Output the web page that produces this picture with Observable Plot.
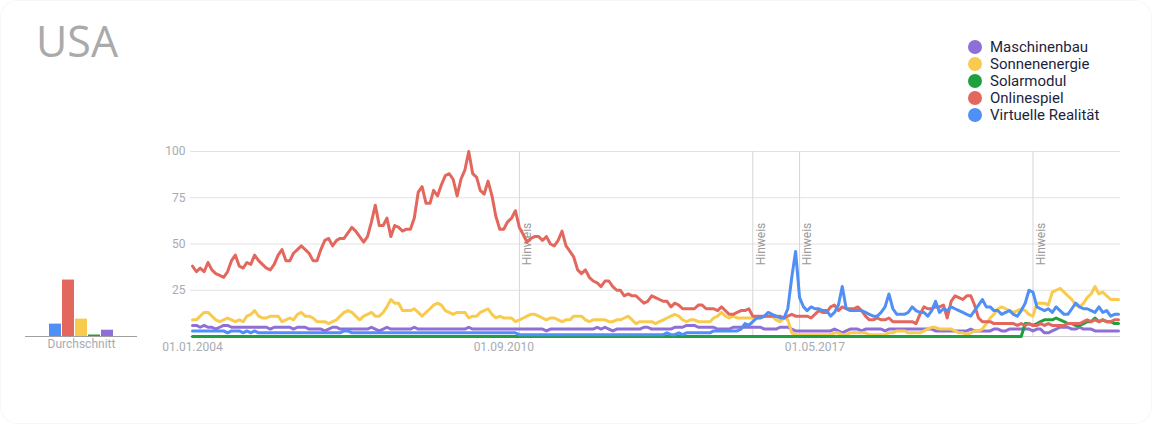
<!DOCTYPE html>
<html>
<head>
<meta charset="utf-8">
<script src="https://cdn.jsdelivr.net/npm/d3@7"></script>
<script src="https://cdn.jsdelivr.net/npm/@observablehq/plot@0.6"></script>
<style>
  html, body { margin: 0; padding: 0; background: #fff; }
  #card { position: relative; width: 1150px; height: 422px; border: 1px solid #f7f7f7; border-radius: 18px; overflow: hidden; background: #fff; }
  #title { position: absolute; left: 35px; top: 18px; font-family: "Open Sans", sans-serif; font-size: 43px; line-height: 1; color: #aaaaaa; }
  #legend { position: absolute; left: 967px; top: 37px; font-family: Roboto, sans-serif; font-size: 15px; color: #1d1f40; }
  #legend .row { display: flex; align-items: center; height: 17px; }
  #legend .dot { width: 14px; height: 14px; border-radius: 50%; margin-right: 8px; }
  .abs { position: absolute; left: 0; top: 0; }
</style>
</head>
<body>
<div id="card">
  <div id="title">USA</div>
  <div id="legend"></div>
  <div id="bars" class="abs"></div>
  <div id="main" class="abs"></div>
</div>
<script>
// ---- data ----
const seriesNames = ["Maschinenbau", "Sonnenenergie", "Solarmodul", "Onlinespiel", "Virtuelle Realität"];
const seriesColors = ["#8e6fd8", "#f8cb4e", "#1fa03f", "#e4675d", "#4f8ff6"];

const startMonth = "2004-01-01"; // monthly values from here

const maschinenbau = [
6,6,5,6,5,5,4,5,6,6, 5,5,5,5,5,5,5,5,5,5, 4,5,5,5,5,5,4,5,5,5, 4,4,4,4,3,4,5,5,4,4,
4,4,4,4,4,4,5,4,3,4, 5,4,4,4,4,
4,4,5,4,4,4,4,4,4,4, 4,4,4,4,4,4,5,4,4,4, 4,4,4,4,4,4,4,4,4,4, 4,4,4,4,4,4,3,4,4,4,
4,4,4,4,4,4,4,4,4,5, 4,5,4,3,4,4,
4,4,4,4,4,5,5,4,4,4, 4,4,4,5,5,5,6,6,6,5, 5,5,5,5,4,4,4,4,5,5, 5,5,5,5,5,5,4,4,4,4,
5,5,5,
4,3,3,3,3,3,3,3,3,3, 3,4,3,2,3,4,4,4,3,4, 4,4,4,4,3,4,4,4,4,4, 4,4,4,4,4,4,4,3,3,3,
3,3,3,3,3,3,4,3,3,3, 3,3,4,4,3,3,4,4,4,4, 4,4,3,4,4,2,2,3,4,5, 5,5,4,4,5,4,4,4,3,3,
3,3,3,3,3
];

const sonnenenergie = [
9,9,11,13,13,11,9,8,9,10, 9,8,9,8,11,12,14,11,10,10, 11,11,11,8,9,10,9,12,13,11, 11,10,8,8,8,7,8,9,11,13,
14,13,11,9,11,12,13,11,11,13, 16,20,18,18,14,
14,14,15,13,11,13,15,17,18,17, 14,13,12,13,13,13,10,11,11,13, 14,15,12,10,11,10,10,10,8,9, 10,11,12,12,11,10,9,10,10,9,
8,9,9,11,11,11,9,8,9,9, 9,9,8,8,9,9,
10,11,9,7,8,8,8,8,7,8, 9,10,11,12,11,9,8,9,9,8, 8,8,8,10,11,13,11,10,11,10, 10,10,10,10,10,10,11,11,11,9,
8,10,9,
2,1,1,1,1,1,1,1,1,1, 1,2,2,1,1,2,2,2,2,2, 1,1,1,1,1,2,2,3,3,3, 2,2,2,2,3,4,5,5,4,4,
4,4,3,2,2,1,2,3,3,4, 7,10,12,15,16,15,14,13,14,15, 14,12,11,18,18,18,17,24,25,26, 24,22,20,17,16,18,21,23,27,23,
24,22,20,20,20
];

const solarmodul = [
0,0,0,0,0,0,0,0,0,0, 0,0,0,0,0,0,0,0,0,0, 0,0,0,0,0,0,0,0,0,0, 0,0,0,0,0,0,0,0,0,0,
0,0,0,0,0,0,0,0,0,0, 0,0,0,0,0,0,0,0,0,0, 0,0,0,0,0,0,0,0,0,0, 0,0,0,0,0,0,0,0,0,0,
0,0,0,0,0,0,0,0,0,0, 0,0,0,0,0,0,0,0,0,0, 0,0,0,0,0,0,0,0,0,0, 0,0,0,0,0,0,0,0,0,0,
0,0,0,0,0,0,0,0,0,0, 0,0,0,0,0,0,0,0,0,0, 0,0,0,0,0,0,0,0,0,0, 0,0,0,0,0,0,0,0,0,0,
0,0,0,0,0,0,0,0,0,0, 0,0,0,0,0,0,0,0,0,0, 0,0,0,0,0,0,0,0,0,0, 0,0,0,0,0,0,0,0,0,0,
0,0,0,0,0,0,0,0,0,0, 0,0,0,0,
7,7,6,7,8,9,9,9,10,9, 8,7,7,6,6,7,8,8,10,8, 9,8,8,7,7
];

const onlinespiel = [
38,35,37,35,40,36,34,33,32,35, 41,44,38,37,40,39,44,41,39,37, 36,39,44,47,41,41,45,47,49,47, 45,41,41,47,52,53,49,52,53,53,
56,59,57,54,51,54,62,71,60,60, 64,54,60,59,57,
58,58,64,78,81,72,72,79,76,82, 87,88,85,76,85,90,100,88,86,79, 77,84,76,65,58,58,62,64,68,59, 55,51,53,54,54,52,54,50,49,52,
57,49,46,43,36,34,36,32,30,29, 27,30,30,27,25,25,
22,23,22,22,20,18,19,22,21,20, 19,19,16,18,17,15,15,15,15,17, 17,15,15,15,14,16,14,12,12,13, 14,14,15,11,11,11,11,11,11,11,
11,10,11,
12,11,11,11,11,10,12,14,13,13, 16,17,14,16,15,15,15,16,14,11, 9,9,10,9,9,10,8,8,8,8, 8,8,7,12,16,15,15,16,16,17,
10,19,22,21,20,22,22,17,10,8, 8,8,7,7,7,7,7,7,6,7, 6,7,6,6,7,6,7,6,6,6, 6,7,7,7,7,8,9,8,9,8,
9,8,8,9,9
];

const virtuelleRealitaet = [
3,3,3,3,3,3,3,3,3,2, 3,3,3,2,3,2,3,2,2,2, 2,2,2,2,2,2,2,2,2,2, 2,2,2,2,2,2,2,2,2,3,
3,2,2,2,2,2,2,2,2,2, 2,2,2,2,2,
2,2,2,2,2,2,2,2,2,2, 2,2,2,2,2,2,2,2,2,2, 2,2,2,2,2,2,2,2,2,1, 1,1,1,1,1,1,1,1,1,1,
1,1,1,1,1,1,1,1,1,1, 1,1,1,1,1,1,
1,1,1,1,1,1,1,1,1,1, 1,2,1,1,2,1,2,2,2,2, 2,2,2,3,3,3,3,3,3,3,
4,7,6,8,10,10,11,13,12,11, 10,10,15,
32,46,21,16,14,16,15,15,14,14, 11,13,17,27,15,14,14,14,14,13, 12,11,11,13,16,23,15,12,12,12, 13,16,14,13,13,11,14,19,13,15,
14,16,15,14,13,12,11,14,17,20, 16,16,14,14,12,13,14,12,11,14, 18,25,24,16,15,14,15,13,16,14, 12,12,15,18,16,15,15,14,13,16,
13,14,11,12,12
];

// averages ("Durchschnitt") as shown by the small bar chart, in its own order
const avgNames = ["Virtuelle Realität", "Onlinespiel", "Sonnenenergie", "Solarmodul", "Maschinenbau"];
const avgValues = [6.7, 30.5, 9.4, 0.8, 3.4];

const yTicks = [25, 50, 75, 100];
const tickDates = ["2004-01-01", "2010-09-01", "2017-05-01"];
const tickLabels = ["01.01.2004", "01.09.2010", "01.05.2017"];
const noteDates = ["2011-01-01", "2016-01-01", "2017-01-01", "2022-01-01"];
const noteLabel = "Hinweis";
const avgLabel = "Durchschnitt";
const endMonth = "2023-11-01";

// ---- build table ----
const seriesValues = [maschinenbau, sonnenenergie, solarmodul, onlinespiel, virtuelleRealitaet];
const start = new Date(startMonth);
const table = [];
seriesNames.forEach((name, s) => {
  seriesValues[s].forEach((v, i) => {
    table.push({series: name, date: d3.utcMonth.offset(start, i), value: v});
  });
});

const colorScale = {domain: seriesNames, range: seriesColors};
const tDates = tickDates.map(d => new Date(d));
const nDates = noteDates.map(d => new Date(d));

// ---- legend ----
const legend = document.getElementById("legend");
seriesNames.forEach((n, i) => {
  const row = document.createElement("div");
  row.className = "row";
  row.innerHTML = `<span class="dot" style="background:${seriesColors[i]}"></span><span>${n}</span>`;
  legend.appendChild(row);
});

// ---- main chart ----
const main = Plot.plot({
  width: 1150, height: 424,
  marginLeft: 191, marginRight: 33, marginTop: 150, marginBottom: 89,
  style: {fontFamily: "Roboto, sans-serif", fontSize: "12px", color: "#a7abb1", background: "transparent", overflow: "visible"},
  x: {type: "utc", domain: [start, new Date(endMonth)]},
  y: {domain: [0, 100]},
  color: colorScale,
  marks: [
    Plot.gridY(yTicks, {stroke: "#e2e2e2", strokeOpacity: 1, insetLeft: -2, insetRight: -2}),
    Plot.ruleY([0], {stroke: "#d0d0d0", insetLeft: -2, insetRight: -2}),
    Plot.ruleX(nDates, {y1: 0, y2: 100, stroke: "#d6d6d6"}),
    Plot.text(nDates, {x: d => d, y: 50, text: () => noteLabel, rotate: -90, dx: 8, fill: "#9a9a9a", fontSize: 12}),
    Plot.axisY({ticks: yTicks, tickSize: 0, tickPadding: 7, label: null, fontSize: 12}),
    Plot.axisX({ticks: tDates, tickSize: 0, tickPadding: 6, label: null, fontSize: 12,
      tickFormat: d => tickLabels[tDates.findIndex(t => +t === +d)]}),
    Plot.line(table, {x: "date", y: "value", z: "series", stroke: "series", strokeWidth: 3, strokeLinejoin: "round", curve: "linear"})
  ]
});
document.getElementById("main").appendChild(main);

// ---- average bars ----
const bars = Plot.plot({
  width: 150, height: 424,
  marginLeft: 46, marginRight: 36, marginTop: 150, marginBottom: 89,
  style: {fontFamily: "Roboto, sans-serif", fontSize: "12px", color: "#a7abb1", background: "transparent", overflow: "visible"},
  x: {type: "band", domain: avgNames, paddingInner: 0.1, paddingOuter: 0, axis: null},
  y: {domain: [0, 100], axis: null},
  color: colorScale,
  marks: [
    Plot.barY(avgNames.map((n, i) => ({name: n, value: avgValues[i]})), {x: "name", y: "value", fill: "name"}),
    Plot.ruleY([0], {stroke: "#a0a0a0", insetLeft: -22, insetRight: -22}),
    Plot.text([avgLabel], {frameAnchor: "bottom", dy: 11, fill: "#a7abb1", fontSize: 12})
  ]
});
document.getElementById("bars").appendChild(bars);
</script>
</body>
</html>
